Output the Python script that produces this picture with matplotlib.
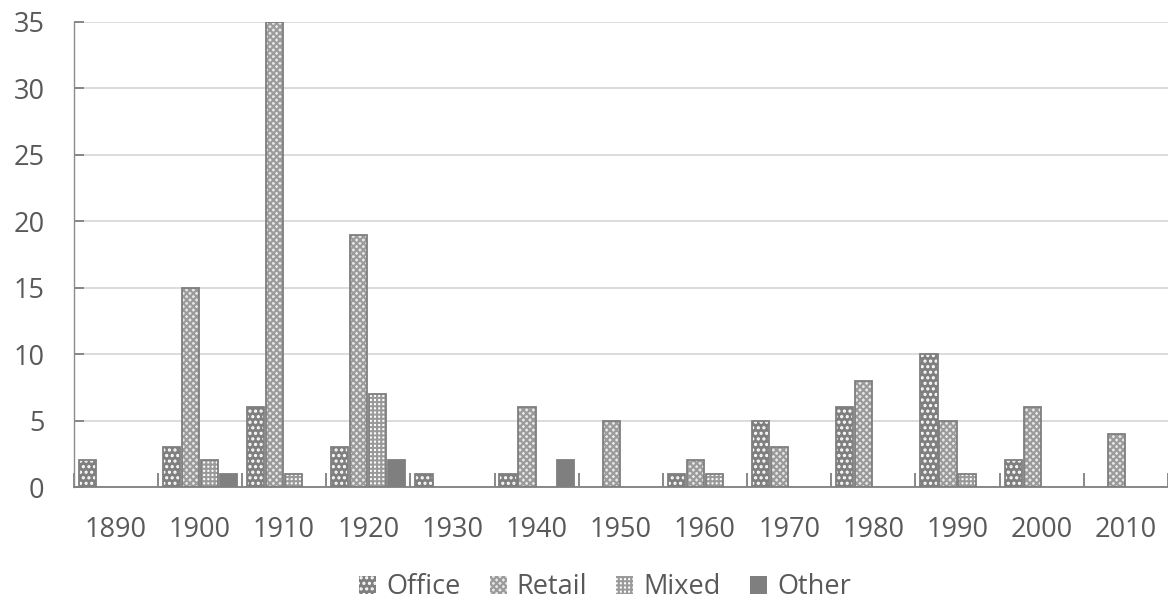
import matplotlib.pyplot as plt
import numpy as np
from matplotlib.patches import Patch

plt.rcParams['font.family'] = ['Open Sans', 'DejaVu Sans']
plt.rcParams['hatch.linewidth'] = 1.5

decades = ['1890', '1900', '1910', '1920', '1930', '1940', '1950',
           '1960', '1970', '1980', '1990', '2000', '2010']
office = [2, 3, 6, 3, 1, 1, 0, 1, 5, 6, 10, 2, 0]
retail = [0, 15, 35, 19, 0, 6, 5, 2, 3, 8, 5, 6, 4]
mixed = [0, 2, 1, 7, 0, 0, 0, 1, 0, 0, 1, 0, 0]
other = [0, 1, 0, 2, 0, 2, 0, 0, 0, 0, 0, 0, 0]

series = [('Office', office, '#7f7f7f', 'white', '...'),
          ('Retail', retail, '#e6e6e6', '#9a9a9a', 'xxxxx'),
          ('Mixed', mixed, 'white', '#9a9a9a', '++++'),
          ('Other', other, '#7f7f7f', '#7f7f7f', '')]

text_col = '#595959'
edge = '#7f7f7f'

fig = plt.figure(figsize=(11.68, 6.08), dpi=100)
ax = fig.add_axes([0.063, 0.199, 0.937, 0.765])

x = np.arange(len(decades))
w = 0.205
pitch = 0.226
handles = []
for i, (name, vals, face, hcol, hatch) in enumerate(series):
    pos = x + (i - 1.5) * pitch
    v = np.array(vals, dtype=float)
    m = v > 0
    ax.bar(pos[m], v[m], w, color=face, edgecolor=hcol, hatch=hatch,
           linewidth=0, zorder=2)
    ax.bar(pos[m], v[m], w, fill=False, edgecolor=edge, linewidth=1.3,
           zorder=3)
    handles.append(Patch(facecolor=face, edgecolor=hcol, hatch=hatch,
                         linewidth=0, label=name))

ax.set_xlim(-0.5, len(decades) - 0.5)
ax.set_ylim(0, 35)
ax.set_yticks(range(0, 36, 5))
ax.yaxis.grid(True, color='#d9d9d9', linewidth=1.3, zorder=0)
ax.set_axisbelow(True)

ax.set_xticks(x)
ax.set_xticklabels(decades)
ax.set_xticks(np.arange(-0.5, len(decades), 1.0), minor=True)
ax.tick_params(axis='x', which='major', length=0, pad=21,
               labelsize=19.5, labelcolor=text_col)
ax.tick_params(axis='x', which='minor', length=10, direction='in',
               color=edge, width=1.3)
ax.tick_params(axis='y', length=7, direction='in', color=edge, width=1.3,
               pad=21, labelsize=19.5, labelcolor=text_col)

for s in ['top', 'right']:
    ax.spines[s].set_visible(False)
ax.spines['left'].set_color('#8c8c8c')
ax.spines['left'].set_linewidth(1.0)
ax.spines['bottom'].set_color(edge)
ax.spines['bottom'].set_linewidth(1.3)
ax.spines['bottom'].set_zorder(4)

fig.legend(handles=handles, loc='center', bbox_to_anchor=(0.518, 0.034),
           ncol=4, frameon=False, fontsize=19.5, handlelength=0.63,
           handleheight=0.63, handletextpad=0.37, columnspacing=1.07,
           labelcolor=text_col)

fig.savefig('out.png', dpi=100)
